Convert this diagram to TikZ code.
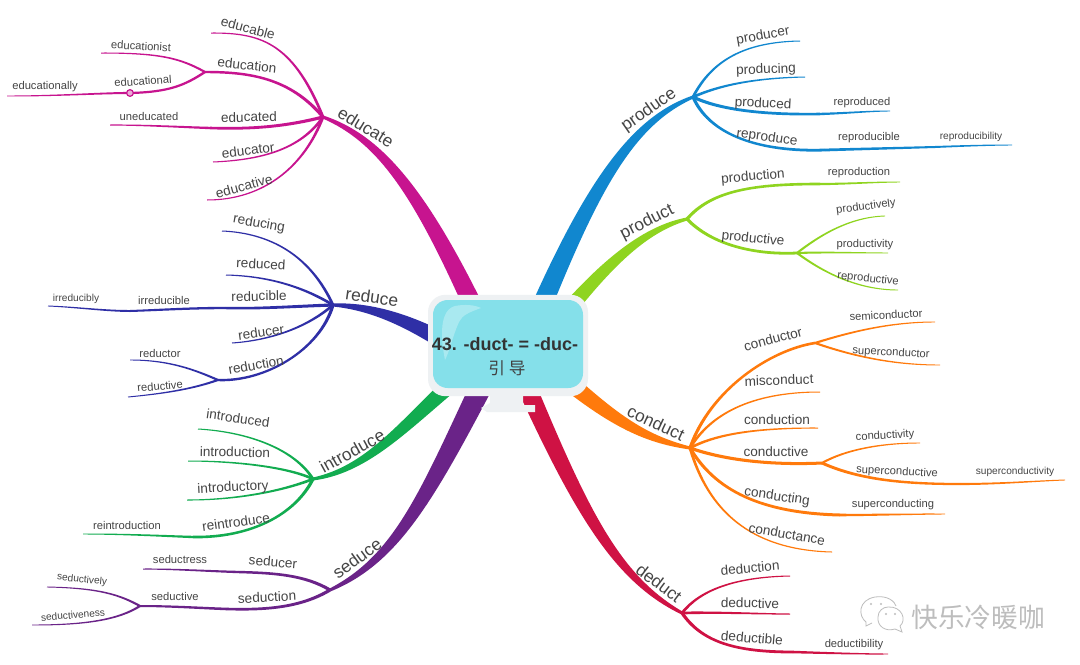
\documentclass[tikz,border=0pt]{standalone}
\usepackage{fontspec}
\setmainfont{Liberation Sans}
\newfontfamily\cjkfont{Noto Sans CJK SC}
\usetikzlibrary{calc,decorations.pathreplacing}
\definecolor{cEdu}{HTML}{C7148F}
\definecolor{cRed}{HTML}{2F2FA6}
\definecolor{cInt}{HTML}{12AC50}
\definecolor{cSed}{HTML}{6A2388}
\definecolor{cPro}{HTML}{1187CF}
\definecolor{cPrt}{HTML}{8FD420}
\definecolor{cCon}{HTML}{FF7A0C}
\definecolor{cDed}{HTML}{CF1244}
\definecolor{cTxt}{HTML}{454545}
\definecolor{cBox}{HTML}{85E0EA}
\definecolor{cRim}{HTML}{EEF1F3}
\definecolor{cMark}{HTML}{BDBDBD}
\tikzset{
  twig/.style n args={3}{decorate,decoration={show path construction,
    curveto code={
      \pgfmathsetlengthmacro\twA{#2*0.375pt}
      \pgfmathsetlengthmacro\twB{(2*#2+#3)/3*0.375pt}
      \pgfmathsetlengthmacro\twC{(#2+2*#3)/3*0.375pt}
      \pgfmathsetlengthmacro\twD{#3*0.375pt}
      \fill[#1]
        ($(\tikzinputsegmentfirst)!\twA!90:(\tikzinputsegmentsupporta)$)
        .. controls ($(\tikzinputsegmentsupporta)!\twB!-90:(\tikzinputsegmentfirst)$)
        and ($(\tikzinputsegmentsupportb)!\twC!90:(\tikzinputsegmentlast)$)
        .. ($(\tikzinputsegmentlast)!\twD!-90:(\tikzinputsegmentsupportb)$)
        -- ($(\tikzinputsegmentlast)!\twD!90:(\tikzinputsegmentsupportb)$)
        .. controls ($(\tikzinputsegmentsupportb)!\twC!-90:(\tikzinputsegmentlast)$)
        and ($(\tikzinputsegmentsupporta)!\twB!90:(\tikzinputsegmentfirst)$)
        .. ($(\tikzinputsegmentfirst)!\twA!-90:(\tikzinputsegmentsupporta)$)
        -- cycle;
    }}},
  labA/.style={text=cTxt,inner sep=0pt,font=\fontsize{13}{15}\selectfont},
  labB/.style={text=cTxt,inner sep=0pt,font=\fontsize{10.2}{12}\selectfont},
  labC/.style={text=cTxt,inner sep=0pt,font=\fontsize{8.4}{10}\selectfont},
  labD/.style={text=cTxt,inner sep=0pt,font=\fontsize{7.6}{9}\selectfont},
}
\begin{document}
\begin{tikzpicture}[x=0.75pt,y=-0.75pt]
\useasboundingbox (0,0) rectangle (1080,664);
\fill[white] (0,0) rectangle (1080,664);
% junctions
\coordinate (jE) at (323,117); \coordinate (eN) at (205,72); \coordinate (eC) at (130,93); \coordinate (eD) at (210,128);
\coordinate (jR) at (333,305); \coordinate (rB) at (225,308); \coordinate (rZ) at (130,311); \coordinate (rD) at (218,380);
\coordinate (jI) at (313,479); \coordinate (iR) at (193,537);
\coordinate (jS) at (330,590); \coordinate (sR) at (238,572); \coordinate (sN) at (227,609); \coordinate (sV) at (140,606);
\coordinate (jP) at (693,97); \coordinate (pD) at (820,114); \coordinate (pR) at (825,150); \coordinate (pS) at (935,147);
\coordinate (jT) at (687,219); \coordinate (tN) at (820,184); \coordinate (tV) at (797,253);
\coordinate (jC) at (690,448); \coordinate (cA) at (815,343); \coordinate (cV) at (822,463); \coordinate (cS) at (960,484); \coordinate (cG) at (840,515);
\coordinate (jD) at (682,613); \coordinate (dB) at (793,652);
% centre anchors
\coordinate (mE) at (475,310); \coordinate (mR) at (445,342); \coordinate (mI) at (450,385); \coordinate (mS) at (482,385);
\coordinate (mP) at (540,310); \coordinate (mT) at (570,308); \coordinate (mC) at (570,383); \coordinate (mD) at (528,390);
% free ends
\foreach \n/\x/\y in {e1/211/33,e2/101/53,e3/7/96,e4/110/125,e5/213/162,e6/207/200,
 r1/222/231,r2/226/275,r3/48/306,r4/232/343,r5/130/360,r6/128/397,
 i1/198/429,i2/188/461,i3/187/500,i4/83/534,
 s1/143/569,s2/47/587,s3/32/625,
 p1/800/41,p2/805/77,p3/890/111,p4/1012/145,
 t1/900/182,t2/885/216,t3/888/253,t4/898/290,
 c1/935/322,c2/940/365,c3/820/392,c4/818/428,c5/920/443,c6/1065/480,c7/945/514,c8/832/552,
 d1/790/576,d2/790/614,d3/888/654}
 {\coordinate (\n) at (\x,\y);}
% main branches
\draw[twig={cEdu}{3}{19}] (jE) .. controls (378,138) and (418,188) .. (mE);
\draw[twig={cRed}{3}{17}] (jR) .. controls (365,306) and (400,316) .. (mR);
\draw[twig={cInt}{3}{16}] (jI) .. controls (365,470) and (400,430) .. (mI);
\draw[twig={cSed}{3}{22}] (jS) .. controls (395,560) and (425,500) .. (mS);
\draw[twig={cPro}{3}{20}] (jP) .. controls (635,120) and (595,180) .. (mP);
\draw[twig={cPrt}{3}{15}] (jT) .. controls (650,228) and (615,255) .. (mT);
\draw[twig={cCon}{3}{17}] (jC) .. controls (650,440) and (620,425) .. (mC);
\draw[twig={cDed}{3}{19}] (jD) .. controls (620,580) and (585,520) .. (mD);
% educate
\draw[twig={cEdu}{2.8}{1}] (jE) .. controls (292,40) and (258,33) .. (e1);
\draw[twig={cEdu}{3.2}{2.4}] (jE) .. controls (290,78) and (250,72) .. (eN);
\draw[twig={cEdu}{2.2}{1}] (eN) .. controls (180,58) and (160,53) .. (e2);
\draw[twig={cEdu}{2.4}{2.2}] (eN) .. controls (185,85) and (170,92) .. (eC);
\draw[twig={cEdu}{2.2}{0.9}] (eC) .. controls (100,93) and (60,96) .. (e3);
\draw[twig={cEdu}{3.2}{2.6}] (jE) .. controls (280,128) and (245,129) .. (eD);
\draw[twig={cEdu}{2.4}{1}] (eD) .. controls (180,127) and (145,125) .. (e4);
\draw[twig={cEdu}{2.8}{1}] (jE) .. controls (300,150) and (260,160) .. (e5);
\draw[twig={cEdu}{2.8}{1}] (jE) .. controls (305,165) and (265,200) .. (e6);
\node[draw=cEdu,fill=cEdu!35,circle,minimum size=5pt,inner sep=0pt,line width=.9pt] (eDot) at (eC) {};
% reduce
\draw[twig={cRed}{2.8}{1}] (jR) .. controls (310,255) and (270,233) .. (r1);
\draw[twig={cRed}{2.8}{1}] (jR) .. controls (300,285) and (265,276) .. (r2);
\draw[twig={cRed}{3.2}{2.4}] (jR) .. controls (300,306) and (260,309) .. (rB);
\draw[twig={cRed}{2.4}{2}] (rB) .. controls (190,308) and (160,310) .. (rZ);
\draw[twig={cRed}{2}{0.9}] (rZ) .. controls (105,311) and (75,307) .. (r3);
\draw[twig={cRed}{2.8}{1}] (jR) .. controls (310,325) and (275,340) .. (r4);
\draw[twig={cRed}{3.2}{2.4}] (jR) .. controls (320,350) and (265,382) .. (rD);
\draw[twig={cRed}{2.2}{0.9}] (rD) .. controls (195,370) and (170,360) .. (r5);
\draw[twig={cRed}{2.2}{0.9}] (rD) .. controls (195,388) and (170,393) .. (r6);
% introduce
\draw[twig={cInt}{2.8}{1}] (jI) .. controls (295,450) and (250,432) .. (i1);
\draw[twig={cInt}{2.8}{1}] (jI) .. controls (290,468) and (240,461) .. (i2);
\draw[twig={cInt}{2.8}{1}] (jI) .. controls (285,490) and (240,500) .. (i3);
\draw[twig={cInt}{3.2}{2.6}] (jI) .. controls (295,515) and (250,538) .. (iR);
\draw[twig={cInt}{2.4}{0.9}] (iR) .. controls (165,536) and (125,534) .. (i4);
% seduce
\draw[twig={cSed}{3.2}{2.4}] (jS) .. controls (305,575) and (275,573) .. (sR);
\draw[twig={cSed}{2.4}{1}] (sR) .. controls (205,571) and (175,569) .. (s1);
\draw[twig={cSed}{3.2}{2.6}] (jS) .. controls (300,608) and (265,610) .. (sN);
\draw[twig={cSed}{2.6}{2}] (sN) .. controls (200,608) and (170,606) .. (sV);
\draw[twig={cSed}{2.2}{0.9}] (sV) .. controls (120,595) and (100,588) .. (s2);
\draw[twig={cSed}{2.2}{0.9}] (sV) .. controls (118,620) and (85,625) .. (s3);
% produce
\draw[twig={cPro}{2.8}{1}] (jP) .. controls (712,60) and (745,42) .. (p1);
\draw[twig={cPro}{2.8}{1}] (jP) .. controls (720,85) and (755,78) .. (p2);
\draw[twig={cPro}{3.2}{2.6}] (jP) .. controls (720,110) and (765,115) .. (pD);
\draw[twig={cPro}{2.4}{0.9}] (pD) .. controls (850,113) and (870,111) .. (p3);
\draw[twig={cPro}{3.2}{2.8}] (jP) .. controls (712,140) and (770,152) .. (pR);
\draw[twig={cPro}{2.8}{2}] (pR) .. controls (860,149) and (900,148) .. (pS);
\draw[twig={cPro}{2}{0.9}] (pS) .. controls (960,146) and (990,145) .. (p4);
% product
\draw[twig={cPrt}{3.2}{2.6}] (jT) .. controls (712,190) and (755,184) .. (tN);
\draw[twig={cPrt}{2.4}{0.9}] (tN) .. controls (845,184) and (875,182) .. (t1);
\draw[twig={cPrt}{3.2}{2.8}] (jT) .. controls (712,245) and (755,255) .. (tV);
\draw[twig={cPrt}{2.2}{0.9}] (tV) .. controls (820,235) and (850,217) .. (t2);
\draw[twig={cPrt}{2.2}{0.9}] (tV) .. controls (825,252) and (860,253) .. (t3);
\draw[twig={cPrt}{2.2}{0.9}] (tV) .. controls (820,270) and (855,290) .. (t4);
% conduct
\draw[twig={cCon}{3.2}{2.6}] (jC) .. controls (710,390) and (770,350) .. (cA);
\draw[twig={cCon}{2.2}{0.9}] (cA) .. controls (850,332) and (890,322) .. (c1);
\draw[twig={cCon}{2.2}{0.9}] (cA) .. controls (850,355) and (890,365) .. (c2);
\draw[twig={cCon}{2.8}{1}] (jC) .. controls (710,415) and (750,392) .. (c3);
\draw[twig={cCon}{2.8}{1}] (jC) .. controls (720,432) and (765,428) .. (c4);
\draw[twig={cCon}{3.2}{3}] (jC) .. controls (730,462) and (780,465) .. (cV);
\draw[twig={cCon}{2.2}{0.9}] (cV) .. controls (845,450) and (880,443) .. (c5);
\draw[twig={cCon}{3}{2.2}] (cV) .. controls (860,480) and (905,484) .. (cS);
\draw[twig={cCon}{2.2}{0.9}] (cS) .. controls (1000,484) and (1035,481) .. (c6);
\draw[twig={cCon}{3.2}{3}] (jC) .. controls (715,490) and (760,513) .. (cG);
\draw[twig={cCon}{2.6}{0.9}] (cG) .. controls (875,515) and (915,514) .. (c7);
\draw[twig={cCon}{2.8}{1}] (jC) .. controls (708,510) and (750,550) .. (c8);
% deduct
\draw[twig={cDed}{2.8}{1}] (jD) .. controls (700,590) and (735,577) .. (d1);
\draw[twig={cDed}{2.8}{1}] (jD) .. controls (720,612) and (760,614) .. (d2);
\draw[twig={cDed}{3.2}{2.8}] (jD) .. controls (702,642) and (735,652) .. (dB);
\draw[twig={cDed}{2.6}{0.9}] (dB) .. controls (825,653) and (860,654) .. (d3);
% centre box
\fill[cRim] (490,390) -- (523,390) -- (523,405) -- (535,405) -- (535,412) -- (487,412) -- (481,408) -- (490,403) -- cycle;
\node[fill=cRim,rounded corners=13pt,minimum width=120pt,minimum height=76pt,inner sep=0pt] (rim) at (508,345.5) {};
\node[fill=cBox,rounded corners=11pt,minimum width=112.5pt,minimum height=66pt,inner sep=0pt] (box) at (508,344) {};
\fill[white,opacity=.3] (445,360) .. controls (440,335) and (440,310) .. (455,306) .. controls (465,304) and (475,305) .. (481,308)
  .. controls (470,312) and (462,315) .. (459,322) .. controls (453,335) and (450,350) .. (445,360) -- cycle;
\node[inner sep=0pt,text=black!80,font=\fontsize{13.5}{16}\bfseries\selectfont] (ttl) at (505,344) {43. -duct- = -duc-};
\node[inner sep=0pt,text=black!75,font=\fontsize{12.5}{15}\cjkfont\selectfont] (ttlb) at (507,368) {引 导};
% labels
\node[labA,rotate=-31] (Leducate) at (366,127) {educate};
\node[labB,rotate=-15] (L1) at (248,28) {educable};
\node[labC,rotate=-3] (L2) at (141,46) {educationist};
\node[labB,rotate=-6] (L3) at (247,65) {education};
\node[labC,rotate=4] (L4) at (143,81) {educational};
\node[labC] (L5) at (45,87) {educationally};
\node[labC] (L6) at (149,116) {uneducated};
\node[labB,rotate=1] (L7) at (249,117) {educated};
\node[labB,rotate=7] (L8) at (248,150) {educator};
\node[labB,rotate=15] (L9) at (244,186) {educative};
\node[labA,rotate=-8] (Lreduce) at (372,297) {reduce};
\node[labB,rotate=-10] (L10) at (259,224) {reducing};
\node[labB,rotate=-3] (L11) at (261,264) {reduced};
\node[labB,rotate=1] (L12) at (259,296) {reducible};
\node[labC] (L13) at (164,300) {irreducible};
\node[labD] (L14) at (76,299) {irreducibly};
\node[labB,rotate=8] (L15) at (261,332) {reducer};
\node[labB,rotate=10] (L16) at (256,365) {reduction};
\node[labC] (L17) at (160,353) {reductor};
\node[labC,rotate=5] (L18) at (160,386) {reductive};
\node[labA,rotate=29] (Lintroduce) at (352,451) {introduce};
\node[labB,rotate=-8] (L19) at (238,418) {introduced};
\node[labB,rotate=-1] (L20) at (235,452) {introduction};
\node[labB,rotate=3] (L21) at (233,488) {introductory};
\node[labB,rotate=8] (L22) at (236,522) {reintroduce};
\node[labC] (L23) at (127,525) {reintroduction};
\node[labA,rotate=36] (Lseduce) at (357,558) {seduce};
\node[labB,rotate=-5] (L24) at (273,562) {seducer};
\node[labC] (L25) at (180,559) {seductress};
\node[labB,rotate=3] (L26) at (267,597) {seduction};
\node[labC] (L27) at (175,596.5) {seductive};
\node[labD,rotate=-6] (L28) at (82,580) {seductively};
\node[labD,rotate=5] (L29) at (73,615) {seductiveness};
\node[labA,rotate=35] (Lproduce) at (649,110) {produce};
\node[labB,rotate=10] (L30) at (763,36) {producer};
\node[labB,rotate=2] (L31) at (766,70) {producing};
\node[labB,rotate=-3] (L32) at (763,104) {produced};
\node[labC] (L33) at (862,103) {reproduced};
\node[labB,rotate=-8] (L34) at (767,138) {reproduce};
\node[labC] (L35) at (869,138) {reproducible};
\node[labD] (L36) at (971,137) {reproducibility};
\node[labA,rotate=27] (Lproduct) at (647,222) {product};
\node[labB,rotate=5] (L37) at (753,177) {production};
\node[labC] (L38) at (859,173) {reproduction};
\node[labB,rotate=-6] (L39) at (753,239) {productive};
\node[labC,rotate=7] (L40) at (866,207) {productively};
\node[labC] (L41) at (865,245) {productivity};
\node[labC,rotate=-6] (L42) at (868,279) {reproductive};
\node[labA,rotate=-25] (Lconduct) at (656,423) {conduct};
\node[labB,rotate=15] (L43) at (773,339) {conductor};
\node[labC,rotate=3] (L44) at (886,315) {semiconductor};
\node[labC,rotate=-3] (L45) at (891,353) {superconductor};
\node[labB,rotate=2] (L46) at (779,380) {misconduct};
\node[labB] (L47) at (777,420) {conduction};
\node[labB] (L48) at (776,452) {conductive};
\node[labC,rotate=3] (L49) at (885,436) {conductivity};
\node[labC,rotate=-3] (L50) at (897,472) {superconductive};
\node[labD] (L51) at (1015,472) {superconductivity};
\node[labB,rotate=-8] (L52) at (777,497) {conducting};
\node[labC] (L53) at (893,505) {superconducting};
\node[labB,rotate=-10] (L54) at (787,534) {conductance};
\node[labA,rotate=-37] (Ldeduct) at (659,583) {deduct};
\node[labB,rotate=5] (L55) at (750,568) {deduction};
\node[labB,rotate=-1] (L56) at (750,603) {deductive};
\node[labB,rotate=-5] (L57) at (752,638) {deductible};
\node[labC] (L58) at (854,645) {deductibility};
% watermark
\draw[cMark,line width=.6pt] (866,622) .. controls (858,616) and (858,600) .. (875,597) .. controls (888,595) and (895,602) .. (896,606);
\draw[cMark,line width=.6pt] (866,622) -- (866,626) -- (872,623);
\draw[cMark,line width=.6pt,fill=white] (888,607) .. controls (902,606) and (907,620) .. (900,626) -- (902,632) -- (895,629)
  .. controls (885,632) and (877,626) .. (878,617) .. controls (878,611) and (883,607) .. (888,607) -- cycle;
\foreach \x/\y in {871/604,881/604,886/614,895/614} \fill[cMark] (\x,\y) circle (1.1);
\node[inner sep=0pt,text=cMark,font=\fontsize{20}{24}\cjkfont\selectfont] (mark) at (978,617) {快乐冷暖咖};
\end{tikzpicture}
\end{document}
